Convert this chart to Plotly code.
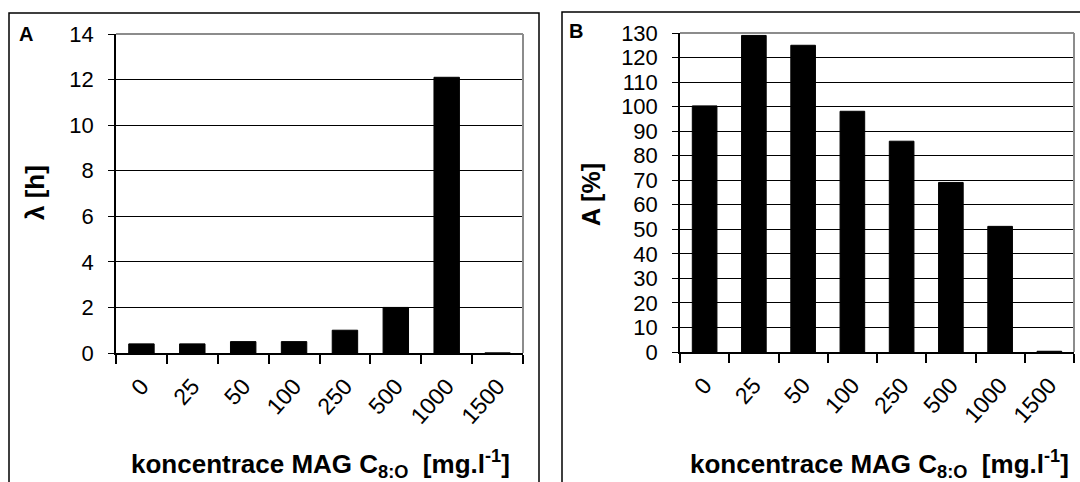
import plotly.graph_objects as go

categories = ["0", "25", "50", "100", "250", "500", "1000", "1500"]
lag_h = [0.4, 0.4, 0.5, 0.5, 1.0, 2.0, 12.1, 0.0]
activity_pct = [100.3, 129.0, 125.0, 98.1, 85.9, 69.1, 51.2, 0.3]

W, H = 1080, 482
FONT = "Liberation Sans, Arial, sans-serif"

def px(x):
    return x / W

def py(y):
    return 1 - y / H

fig = go.Figure()
fig.add_trace(go.Bar(x=categories, y=lag_h, xaxis="x", yaxis="y",
                     marker=dict(color="black", line=dict(color="black", width=1)),
                     showlegend=False))
fig.add_trace(go.Bar(x=categories, y=activity_pct, xaxis="x2", yaxis="y2",
                     marker=dict(color="black", line=dict(color="black", width=1)),
                     showlegend=False))

xcommon = dict(type="category", showline=True, linecolor="black", linewidth=1.5,
               ticks="outside", tickson="boundaries", ticklen=9, tickcolor="black",
               tickwidth=1.5, tickangle=-48, showgrid=False, zeroline=False,
               ticklabelstandoff=9, automargin=False,
               tickfont=dict(family=FONT, size=23, color="black"), fixedrange=True)
ycommon = dict(showline=True, linecolor="black", linewidth=1.5, ticks="outside",
               ticklen=6, tickcolor="black", tickwidth=1, showgrid=True,
               gridcolor="black", gridwidth=1, zeroline=False, fixedrange=True,
               ticklabelstandoff=10, automargin=False)

fig.update_layout(
    width=W, height=H, margin=dict(l=0, r=0, t=0, b=0, pad=0), autosize=False,
    paper_bgcolor="white", plot_bgcolor="white", bargap=0.5,
    xaxis=dict(domain=[px(116), px(523)], anchor="y", **xcommon),
    yaxis=dict(domain=[py(353), py(34)], anchor="x", range=[0, 14], dtick=2,
               tickfont=dict(family=FONT, size=22, color="black"), **ycommon),
    xaxis2=dict(domain=[px(680), px(1074)], anchor="y2", **xcommon),
    yaxis2=dict(domain=[py(352), py(33)], anchor="x2", range=[0, 130], dtick=10,
                tickfont=dict(family=FONT, size=22, color="black"), **ycommon),
)

shapes = []
shapes.append(dict(type="rect", xref="paper", yref="paper", x0=px(9), x1=px(539),
                   y0=-0.05, y1=py(13), line=dict(color="black", width=1.5)))
shapes.append(dict(type="rect", xref="paper", yref="paper", x0=px(562), x1=1.05,
                   y0=-0.05, y1=py(12), line=dict(color="black", width=1.5)))
for xr, yr in (("x domain", "y domain"), ("x2 domain", "y2 domain")):
    shapes.append(dict(type="line", xref=xr, yref=yr, x0=0, x1=1, y0=1, y1=1,
                       line=dict(color="#8c8c8c", width=2)))
    shapes.append(dict(type="line", xref=xr, yref=yr, x0=1, x1=1, y0=0, y1=1,
                       line=dict(color="#8c8c8c", width=2)))
fig.update_layout(shapes=shapes)

xtitle = "<b>koncentrace MAG C<sub>8:O</sub>  [mg.l<sup>-1</sup>]</b>"
ann = [
    dict(text="<b>A</b>", x=px(17), y=py(34), xanchor="left", yanchor="middle",
         font=dict(family=FONT, size=20, color="black")),
    dict(text="<b>B</b>", x=px(567), y=py(31), xanchor="left", yanchor="middle",
         font=dict(family=FONT, size=20, color="black")),
    dict(text="<b>λ [h]</b>", x=px(35), y=py(193), textangle=-90,
         xanchor="center", yanchor="middle",
         font=dict(family=FONT, size=26, color="black")),
    dict(text="<b>A [%]</b>", x=px(591), y=py(195), textangle=-90,
         xanchor="center", yanchor="middle",
         font=dict(family=FONT, size=25, color="black")),
    dict(text=xtitle, x=px(320), y=py(464), xanchor="center", yanchor="middle",
         font=dict(family=FONT, size=26, color="black")),
    dict(text=xtitle, x=px(879), y=py(464), xanchor="center", yanchor="middle",
         font=dict(family=FONT, size=26, color="black")),
]
for a in ann:
    a.update(xref="paper", yref="paper", showarrow=False)
fig.update_layout(annotations=ann)

fig.write_html("out.html", config={"displayModeBar": False},
               post_script="document.body.style.margin='0';document.body.style.overflow='hidden';")
